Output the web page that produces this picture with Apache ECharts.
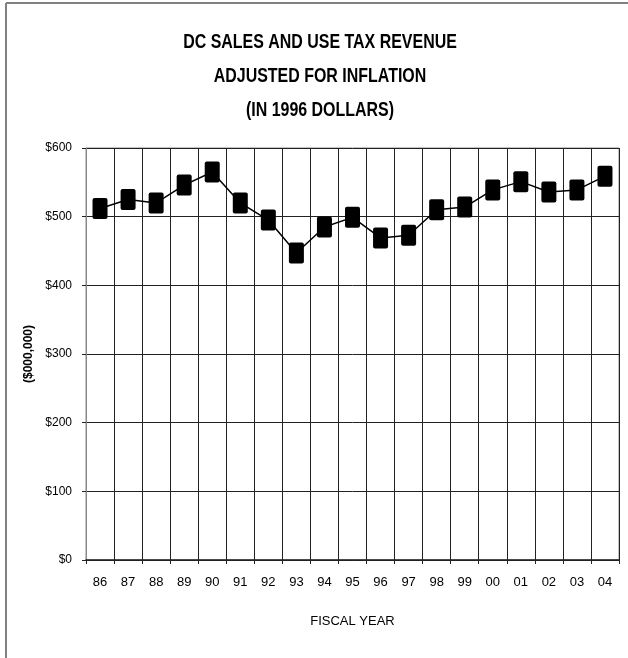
<!DOCTYPE html>
<html>
<head>
<meta charset="utf-8">
<script src="https://cdn.jsdelivr.net/npm/echarts@6/dist/echarts.min.js"></script>
<style>
html,body{margin:0;padding:0;background:#fff;}
#chart{width:628px;height:658px;}
</style>
</head>
<body>
<div id="chart"></div>
<script>
const titleLines = ['DC SALES AND USE TAX REVENUE', 'ADJUSTED FOR INFLATION', '(IN 1996 DOLLARS)'];
const categories = ['86','87','88','89','90','91','92','93','94','95','96','97','98','99','00','01','02','03','04'];
const revenue = [512, 525, 520, 546, 565, 520, 495, 447, 485, 499, 469, 473, 510, 514, 539, 551, 536, 539, 559];
const yTicks = [0, 100, 200, 300, 400, 500, 600];
const xAxisName = 'FISCAL YEAR';
const yAxisName = '($000,000)';

const FONT = '"Liberation Sans", Arial, sans-serif';
const chart = echarts.init(document.getElementById('chart'), null, {renderer: 'canvas'});

const titleGraphics = titleLines.map((t, i) => ({
  type: 'text', x: 320, y: 42 + i * 34, scaleX: 0.76,
  style: {text: t, textAlign: 'center', textVerticalAlign: 'middle',
          font: 'bold 21px ' + FONT, fill: '#000'}
}));

chart.setOption({
  animation: false,
  backgroundColor: '#fff',
  grid: {left: 86, right: 9, top: 148, bottom: 98, show: true, borderColor: '#888', borderWidth: 1},
  xAxis: {
    type: 'category', data: categories, boundaryGap: true,
    name: xAxisName, nameLocation: 'middle', nameGap: 55,
    nameTextStyle: {fontFamily: FONT, fontSize: 13, color: '#000'},
    axisLine: {lineStyle: {color: '#222', width: 1.5}},
    axisTick: {show: true, length: 4, lineStyle: {color: '#222'}},
    axisLabel: {fontFamily: FONT, fontSize: 13, color: '#000', margin: 16, interval: 0},
    splitLine: {show: true, lineStyle: {color: '#222', width: 1}}
  },
  yAxis: {
    type: 'value', min: yTicks[0], max: yTicks[yTicks.length - 1], interval: 100,
    name: yAxisName, nameLocation: 'middle', nameGap: 40,
    nameTextStyle: {fontFamily: FONT, fontSize: 12, fontWeight: 'bold', color: '#000'},
    axisLine: {show: true, lineStyle: {color: '#888'}},
    axisTick: {show: true, length: 4, lineStyle: {color: '#222'}},
    axisLabel: {fontFamily: FONT, fontSize: 12, color: '#000', margin: 14, formatter: v => '$' + v},
    splitLine: {show: true, lineStyle: {color: '#222', width: 1}}
  },
  series: [{
    type: 'line', data: revenue,
    symbol: 'path://M2,0 H13 Q15,0 15,2 V19 Q15,21 13,21 H2 Q0,21 0,19 V2 Q0,0 2,0 Z',
    symbolSize: [15, 21],
    itemStyle: {color: '#000'},
    lineStyle: {color: '#000', width: 1.5}
  }],
  graphic: [
    {type: 'line', shape: {x1: 6, y1: 3, x2: 628, y2: 3}, style: {stroke: '#808080', lineWidth: 2}},
    {type: 'line', shape: {x1: 6, y1: 3, x2: 6, y2: 658}, style: {stroke: '#808080', lineWidth: 2}}
  ].concat(titleGraphics)
});
</script>
</body>
</html>
